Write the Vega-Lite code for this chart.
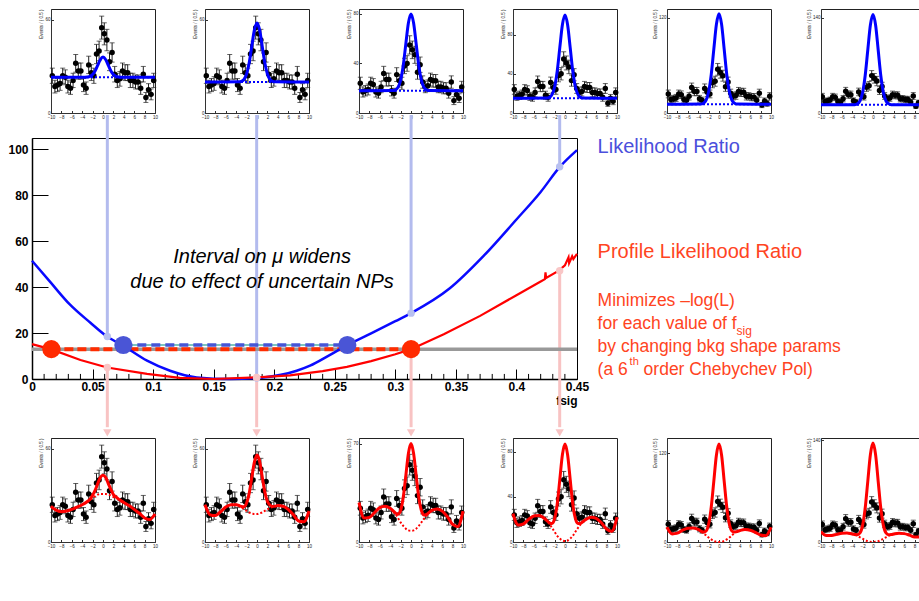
{
"$schema":"https://vega.github.io/schema/vega-lite/v6.json",
"padding":{"left":7,"top":7,"right":0,"bottom":5},
"background":"white",
"config":{"font":"Liberation Sans","view":{"stroke":"#222","strokeWidth":1},
 "axis":{"labelFontSize":4.5,"titleFontSize":4.5,"titleFontWeight":"normal","tickSize":-2.5,"labelPadding":3.5,"tickColor":"#333","domainColor":"#333","labelColor":"#222","grid":false,"titleColor":"#222","titlePadding":1,"labelFlush":false}},
"datasets":{
"obs":[{"x":-9.75,"y":24,"e":4.9},{"x":-9.25,"y":17,"e":4.1},{"x":-8.75,"y":18,"e":4.2},{"x":-8.25,"y":19,"e":4.4},{"x":-7.75,"y":24,"e":4.9},{"x":-7.25,"y":23,"e":4.8},{"x":-6.75,"y":17,"e":4.1},{"x":-6.25,"y":16,"e":4.0},{"x":-5.75,"y":21,"e":4.6},{"x":-5.25,"y":32,"e":5.7},{"x":-4.75,"y":27,"e":5.2},{"x":-4.25,"y":27,"e":5.2},{"x":-3.75,"y":18,"e":4.2},{"x":-3.25,"y":16,"e":4.0},{"x":-2.75,"y":31,"e":5.6},{"x":-2.25,"y":26,"e":5.1},{"x":-1.75,"y":24,"e":4.9},{"x":-1.25,"y":38,"e":6.2},{"x":-0.75,"y":40,"e":6.3},{"x":-0.25,"y":55,"e":7.4},{"x":0.25,"y":51,"e":7.1},{"x":0.75,"y":47,"e":6.9},{"x":1.25,"y":33,"e":5.7},{"x":1.75,"y":39,"e":6.2},{"x":2.25,"y":25,"e":5.0},{"x":2.75,"y":21,"e":4.6},{"x":3.25,"y":22,"e":4.7},{"x":3.75,"y":27,"e":5.2},{"x":4.25,"y":26,"e":5.1},{"x":4.75,"y":26,"e":5.1},{"x":5.25,"y":21,"e":4.6},{"x":5.75,"y":21,"e":4.6},{"x":6.25,"y":20,"e":4.5},{"x":6.75,"y":20,"e":4.5},{"x":7.25,"y":16,"e":4.0},{"x":7.75,"y":25,"e":5.0},{"x":8.25,"y":10,"e":3.2},{"x":8.75,"y":15,"e":3.9},{"x":9.25,"y":12,"e":3.5},{"x":9.75,"y":21,"e":4.6}],
"fits":[
{"p":"T1","x":-10,"bkg":23,"fit":23},{"p":"T1","x":-3.5,"bkg":23,"fit":23.03},{"p":"T1","x":-3,"bkg":23,"fit":23.14},{"p":"T1","x":-2.5,"bkg":23,"fit":23.57},{"p":"T1","x":-2,"bkg":23,"fit":24.76},{"p":"T1","x":-1.5,"bkg":23,"fit":27.22},{"p":"T1","x":-1,"bkg":23,"fit":30.88},{"p":"T1","x":-0.5,"bkg":23,"fit":34.47},{"p":"T1","x":0,"bkg":23,"fit":36},{"p":"T1","x":0.5,"bkg":23,"fit":34.47},{"p":"T1","x":1,"bkg":23,"fit":30.88},{"p":"T1","x":1.5,"bkg":23,"fit":27.22},{"p":"T1","x":2,"bkg":23,"fit":24.76},{"p":"T1","x":2.5,"bkg":23,"fit":23.57},{"p":"T1","x":3,"bkg":23,"fit":23.14},{"p":"T1","x":3.5,"bkg":23,"fit":23.03},{"p":"T1","x":10,"bkg":23,"fit":23},
{"p":"T2","x":-10,"bkg":20,"fit":20},{"p":"T2","x":-3.5,"bkg":20,"fit":20.08},{"p":"T2","x":-3,"bkg":20,"fit":20.42},{"p":"T2","x":-2.5,"bkg":20,"fit":21.67},{"p":"T2","x":-2,"bkg":20,"fit":25.14},{"p":"T2","x":-1.5,"bkg":20,"fit":32.34},{"p":"T2","x":-1,"bkg":20,"fit":43.05},{"p":"T2","x":-0.5,"bkg":20,"fit":53.54},{"p":"T2","x":0,"bkg":20,"fit":58},{"p":"T2","x":0.5,"bkg":20,"fit":53.54},{"p":"T2","x":1,"bkg":20,"fit":43.05},{"p":"T2","x":1.5,"bkg":20,"fit":32.34},{"p":"T2","x":2,"bkg":20,"fit":25.14},{"p":"T2","x":2.5,"bkg":20,"fit":21.67},{"p":"T2","x":3,"bkg":20,"fit":20.42},{"p":"T2","x":3.5,"bkg":20,"fit":20.08},{"p":"T2","x":10,"bkg":20,"fit":20},
{"p":"T3","x":-10,"bkg":18,"fit":18},{"p":"T3","x":-3.5,"bkg":18,"fit":18.14},{"p":"T3","x":-3,"bkg":18,"fit":18.69},{"p":"T3","x":-2.5,"bkg":18,"fit":20.72},{"p":"T3","x":-2,"bkg":18,"fit":26.39},{"p":"T3","x":-1.5,"bkg":18,"fit":38.13},{"p":"T3","x":-1,"bkg":18,"fit":55.6},{"p":"T3","x":-0.5,"bkg":18,"fit":72.7},{"p":"T3","x":0,"bkg":18,"fit":80},{"p":"T3","x":0.5,"bkg":18,"fit":72.7},{"p":"T3","x":1,"bkg":18,"fit":55.6},{"p":"T3","x":1.5,"bkg":18,"fit":38.13},{"p":"T3","x":2,"bkg":18,"fit":26.39},{"p":"T3","x":2.5,"bkg":18,"fit":20.72},{"p":"T3","x":3,"bkg":18,"fit":18.69},{"p":"T3","x":3.5,"bkg":18,"fit":18.14},{"p":"T3","x":10,"bkg":18,"fit":18},
{"p":"T4","x":-10,"bkg":15,"fit":15},{"p":"T4","x":-3.5,"bkg":15,"fit":15.19},{"p":"T4","x":-3,"bkg":15,"fit":15.94},{"p":"T4","x":-2.5,"bkg":15,"fit":18.73},{"p":"T4","x":-2,"bkg":15,"fit":26.5},{"p":"T4","x":-1.5,"bkg":15,"fit":42.6},{"p":"T4","x":-1,"bkg":15,"fit":66.55},{"p":"T4","x":-0.5,"bkg":15,"fit":90},{"p":"T4","x":0,"bkg":15,"fit":100},{"p":"T4","x":0.5,"bkg":15,"fit":90},{"p":"T4","x":1,"bkg":15,"fit":66.55},{"p":"T4","x":1.5,"bkg":15,"fit":42.6},{"p":"T4","x":2,"bkg":15,"fit":26.5},{"p":"T4","x":2.5,"bkg":15,"fit":18.73},{"p":"T4","x":3,"bkg":15,"fit":15.94},{"p":"T4","x":3.5,"bkg":15,"fit":15.19},{"p":"T4","x":10,"bkg":15,"fit":15},
{"p":"T5","x":-10,"bkg":11,"fit":11},{"p":"T5","x":-3.5,"bkg":11,"fit":11.25},{"p":"T5","x":-3,"bkg":11,"fit":12.27},{"p":"T5","x":-2.5,"bkg":11,"fit":16},{"p":"T5","x":-2,"bkg":11,"fit":26.42},{"p":"T5","x":-1.5,"bkg":11,"fit":48},{"p":"T5","x":-1,"bkg":11,"fit":80.14},{"p":"T5","x":-0.5,"bkg":11,"fit":111.6},{"p":"T5","x":0,"bkg":11,"fit":125},{"p":"T5","x":0.5,"bkg":11,"fit":111.6},{"p":"T5","x":1,"bkg":11,"fit":80.14},{"p":"T5","x":1.5,"bkg":11,"fit":48},{"p":"T5","x":2,"bkg":11,"fit":26.42},{"p":"T5","x":2.5,"bkg":11,"fit":16},{"p":"T5","x":3,"bkg":11,"fit":12.27},{"p":"T5","x":3.5,"bkg":11,"fit":11.25},{"p":"T5","x":10,"bkg":11,"fit":11},
{"p":"T6","x":-10,"bkg":12,"fit":12},{"p":"T6","x":-3.5,"bkg":12,"fit":12.29},{"p":"T6","x":-3,"bkg":12,"fit":13.48},{"p":"T6","x":-2.5,"bkg":12,"fit":17.84},{"p":"T6","x":-2,"bkg":12,"fit":30},{"p":"T6","x":-1.5,"bkg":12,"fit":55.19},{"p":"T6","x":-1,"bkg":12,"fit":92.66},{"p":"T6","x":-0.5,"bkg":12,"fit":129.4},{"p":"T6","x":0,"bkg":12,"fit":145},{"p":"T6","x":0.5,"bkg":12,"fit":129.4},{"p":"T6","x":1,"bkg":12,"fit":92.66},{"p":"T6","x":1.5,"bkg":12,"fit":55.19},{"p":"T6","x":2,"bkg":12,"fit":30},{"p":"T6","x":2.5,"bkg":12,"fit":17.84},{"p":"T6","x":3,"bkg":12,"fit":13.48},{"p":"T6","x":3.5,"bkg":12,"fit":12.29},{"p":"T6","x":10,"bkg":12,"fit":12},
{"p":"B1","x":-10,"bkg":23,"fit":23},{"p":"B1","x":-9,"bkg":20.5,"fit":20.5},{"p":"B1","x":-8,"bkg":19.5,"fit":19.5},{"p":"B1","x":-7,"bkg":20,"fit":20},{"p":"B1","x":-6,"bkg":21,"fit":21},{"p":"B1","x":-5,"bkg":22.5,"fit":22.5},{"p":"B1","x":-4,"bkg":24,"fit":24},{"p":"B1","x":-3,"bkg":26,"fit":26.1},{"p":"B1","x":-2.5,"bkg":27,"fit":27.5},{"p":"B1","x":-2,"bkg":28.5,"fit":30.1},{"p":"B1","x":-1.5,"bkg":29.5,"fit":33.4},{"p":"B1","x":-1,"bkg":30.5,"fit":37.8},{"p":"B1","x":-0.5,"bkg":31,"fit":41.6},{"p":"B1","x":0,"bkg":31,"fit":43},{"p":"B1","x":0.5,"bkg":31,"fit":41.6},{"p":"B1","x":1,"bkg":30.5,"fit":37.8},{"p":"B1","x":1.5,"bkg":30,"fit":33.9},{"p":"B1","x":2,"bkg":29,"fit":30.6},{"p":"B1","x":2.5,"bkg":28.5,"fit":29},{"p":"B1","x":3,"bkg":27.5,"fit":27.6},{"p":"B1","x":3.5,"bkg":26.5,"fit":26.5},{"p":"B1","x":4,"bkg":25.5,"fit":25.5},{"p":"B1","x":5,"bkg":23.5,"fit":23.5},{"p":"B1","x":6,"bkg":21,"fit":21},{"p":"B1","x":7,"bkg":18.5,"fit":18.5},{"p":"B1","x":8,"bkg":15.5,"fit":15.5},{"p":"B1","x":9,"bkg":14.5,"fit":14.5},{"p":"B1","x":10,"bkg":18,"fit":18},
{"p":"B2","x":-10,"bkg":24,"fit":24},{"p":"B2","x":-9,"bkg":17.5,"fit":17.5},{"p":"B2","x":-8,"bkg":17,"fit":17},{"p":"B2","x":-7,"bkg":19.5,"fit":19.5},{"p":"B2","x":-6,"bkg":22.5,"fit":22.5},{"p":"B2","x":-5,"bkg":24,"fit":24},{"p":"B2","x":-4,"bkg":24,"fit":24},{"p":"B2","x":-3,"bkg":22.5,"fit":22.9},{"p":"B2","x":-2.5,"bkg":21,"fit":22.7},{"p":"B2","x":-2,"bkg":20,"fit":25.1},{"p":"B2","x":-1.5,"bkg":19,"fit":31.3},{"p":"B2","x":-1,"bkg":18.5,"fit":41.5},{"p":"B2","x":-0.5,"bkg":18,"fit":51.5},{"p":"B2","x":0,"bkg":18,"fit":56},{"p":"B2","x":0.5,"bkg":18.5,"fit":52},{"p":"B2","x":1,"bkg":19,"fit":42},{"p":"B2","x":1.5,"bkg":20,"fit":32.3},{"p":"B2","x":2,"bkg":21,"fit":26.1},{"p":"B2","x":2.5,"bkg":22,"fit":23.7},{"p":"B2","x":3,"bkg":22.5,"fit":22.9},{"p":"B2","x":3.5,"bkg":23,"fit":23.1},{"p":"B2","x":4,"bkg":23.5,"fit":23.5},{"p":"B2","x":5,"bkg":23,"fit":23},{"p":"B2","x":6,"bkg":21,"fit":21},{"p":"B2","x":7,"bkg":17.5,"fit":17.5},{"p":"B2","x":8,"bkg":13.5,"fit":13.5},{"p":"B2","x":9,"bkg":13,"fit":13},{"p":"B2","x":10,"bkg":20,"fit":20},
{"p":"B3","x":-10,"bkg":28,"fit":28},{"p":"B3","x":-9,"bkg":17,"fit":17},{"p":"B3","x":-8,"bkg":17.5,"fit":17.5},{"p":"B3","x":-7,"bkg":21,"fit":21},{"p":"B3","x":-6,"bkg":24.5,"fit":24.5},{"p":"B3","x":-5,"bkg":25.5,"fit":25.5},{"p":"B3","x":-4,"bkg":24,"fit":24},{"p":"B3","x":-3,"bkg":20,"fit":20.7},{"p":"B3","x":-2.5,"bkg":17,"fit":19.7},{"p":"B3","x":-2,"bkg":14,"fit":22.4},{"p":"B3","x":-1.5,"bkg":11.5,"fit":31.6},{"p":"B3","x":-1,"bkg":9.5,"fit":47.1},{"p":"B3","x":-0.5,"bkg":8.3,"fit":63},{"p":"B3","x":0,"bkg":8,"fit":70},{"p":"B3","x":0.5,"bkg":8.3,"fit":63},{"p":"B3","x":1,"bkg":9.5,"fit":47.1},{"p":"B3","x":1.5,"bkg":11.5,"fit":31.6},{"p":"B3","x":2,"bkg":14,"fit":22.4},{"p":"B3","x":2.5,"bkg":16.5,"fit":19.2},{"p":"B3","x":3,"bkg":19,"fit":19.7},{"p":"B3","x":3.5,"bkg":21,"fit":21.1},{"p":"B3","x":4,"bkg":22.5,"fit":22.5},{"p":"B3","x":5,"bkg":23.5,"fit":23.5},{"p":"B3","x":6,"bkg":22,"fit":22},{"p":"B3","x":7,"bkg":18,"fit":18},{"p":"B3","x":8,"bkg":12.5,"fit":12.5},{"p":"B3","x":9,"bkg":11,"fit":11},{"p":"B3","x":10,"bkg":22,"fit":22},
{"p":"B4","x":-10,"bkg":25,"fit":25},{"p":"B4","x":-9,"bkg":15,"fit":15},{"p":"B4","x":-8,"bkg":16,"fit":16},{"p":"B4","x":-7,"bkg":20,"fit":20},{"p":"B4","x":-6,"bkg":23,"fit":23},{"p":"B4","x":-5,"bkg":23.5,"fit":23.5},{"p":"B4","x":-4,"bkg":21,"fit":21},{"p":"B4","x":-3,"bkg":16,"fit":17},{"p":"B4","x":-2.5,"bkg":12.5,"fit":16.3},{"p":"B4","x":-2,"bkg":9,"fit":20.6},{"p":"B4","x":-1.5,"bkg":5.5,"fit":33.4},{"p":"B4","x":-1,"bkg":3,"fit":55.2},{"p":"B4","x":-0.5,"bkg":1.3,"fit":77.2},{"p":"B4","x":0,"bkg":0.8,"fit":86.8},{"p":"B4","x":0.5,"bkg":1.3,"fit":77.2},{"p":"B4","x":1,"bkg":3,"fit":55.2},{"p":"B4","x":1.5,"bkg":5.5,"fit":33.4},{"p":"B4","x":2,"bkg":9,"fit":20.6},{"p":"B4","x":2.5,"bkg":12.5,"fit":16.3},{"p":"B4","x":3,"bkg":15.5,"fit":16.5},{"p":"B4","x":3.5,"bkg":18,"fit":18.2},{"p":"B4","x":4,"bkg":20,"fit":20},{"p":"B4","x":5,"bkg":22,"fit":22},{"p":"B4","x":6,"bkg":21,"fit":21},{"p":"B4","x":7,"bkg":17,"fit":17},{"p":"B4","x":8,"bkg":11.5,"fit":11.5},{"p":"B4","x":9,"bkg":9.5,"fit":9.5},{"p":"B4","x":10,"bkg":22,"fit":22},
{"p":"B5","x":-10,"bkg":20,"fit":20},{"p":"B5","x":-9,"bkg":11,"fit":11},{"p":"B5","x":-8,"bkg":12,"fit":12},{"p":"B5","x":-7,"bkg":16,"fit":16},{"p":"B5","x":-6,"bkg":18.5,"fit":18.5},{"p":"B5","x":-5,"bkg":19,"fit":19},{"p":"B5","x":-4,"bkg":17,"fit":17},{"p":"B5","x":-3,"bkg":12,"fit":13.5},{"p":"B5","x":-2.5,"bkg":9,"fit":14.8},{"p":"B5","x":-2,"bkg":6,"fit":24},{"p":"B5","x":-1.5,"bkg":3.5,"fit":46.7},{"p":"B5","x":-1,"bkg":1.5,"fit":82.2},{"p":"B5","x":-0.5,"bkg":0.3,"fit":117.7},{"p":"B5","x":0,"bkg":0,"fit":133},{"p":"B5","x":0.5,"bkg":0.3,"fit":117.7},{"p":"B5","x":1,"bkg":1.5,"fit":82.2},{"p":"B5","x":1.5,"bkg":3.5,"fit":46.7},{"p":"B5","x":2,"bkg":6,"fit":24},{"p":"B5","x":2.5,"bkg":9,"fit":14.8},{"p":"B5","x":3,"bkg":12,"fit":13.5},{"p":"B5","x":3.5,"bkg":14,"fit":14.3},{"p":"B5","x":4,"bkg":15.5,"fit":15.5},{"p":"B5","x":5,"bkg":17,"fit":17},{"p":"B5","x":6,"bkg":16,"fit":16},{"p":"B5","x":7,"bkg":13,"fit":13},{"p":"B5","x":8,"bkg":9.5,"fit":9.5},{"p":"B5","x":9,"bkg":8.5,"fit":8.5},{"p":"B5","x":10,"bkg":20,"fit":20},
{"p":"B6","x":-10,"bkg":14,"fit":14},{"p":"B6","x":-9,"bkg":9,"fit":9},{"p":"B6","x":-8,"bkg":9,"fit":9},{"p":"B6","x":-7,"bkg":10.5,"fit":10.5},{"p":"B6","x":-6,"bkg":12,"fit":12},{"p":"B6","x":-5,"bkg":12.5,"fit":12.5},{"p":"B6","x":-4,"bkg":11,"fit":11},{"p":"B6","x":-3,"bkg":8.5,"fit":10},{"p":"B6","x":-2.5,"bkg":6.5,"fit":12.5},{"p":"B6","x":-2,"bkg":4.5,"fit":22.9},{"p":"B6","x":-1.5,"bkg":2.5,"fit":46.7},{"p":"B6","x":-1,"bkg":1,"fit":83.5},{"p":"B6","x":-0.5,"bkg":0.2,"fit":120.2},{"p":"B6","x":0,"bkg":0,"fit":136},{"p":"B6","x":0.5,"bkg":0.2,"fit":120.2},{"p":"B6","x":1,"bkg":1,"fit":83.5},{"p":"B6","x":1.5,"bkg":2.5,"fit":46.7},{"p":"B6","x":2,"bkg":4.5,"fit":22.9},{"p":"B6","x":2.5,"bkg":6.5,"fit":12.5},{"p":"B6","x":3,"bkg":8.5,"fit":10},{"p":"B6","x":3.5,"bkg":10,"fit":10.3},{"p":"B6","x":4,"bkg":11,"fit":11},{"p":"B6","x":5,"bkg":12,"fit":12},{"p":"B6","x":6,"bkg":11.5,"fit":11.5},{"p":"B6","x":7,"bkg":9.5,"fit":9.5},{"p":"B6","x":8,"bkg":7,"fit":7},{"p":"B6","x":9,"bkg":7,"fit":7},{"p":"B6","x":10,"bkg":8,"fit":8}
],
"lr":[{"f":0,"v":51.5},{"f":0.015,"v":42.3},{"f":0.031,"v":32.6},{"f":0.048,"v":24.6},{"f":0.062,"v":18.5},{"f":0.075,"v":14.6},{"f":0.095,"v":8.0},{"f":0.114,"v":3.6},{"f":0.136,"v":0.7},{"f":0.163,"v":0},{"f":0.191,"v":0.7},{"f":0.2186,"v":3.6},{"f":0.2296,"v":5.8},{"f":0.245,"v":10.2},{"f":0.2604,"v":14.8},{"f":0.28,"v":19.9},{"f":0.3,"v":25.2},{"f":0.313,"v":28.7},{"f":0.345,"v":39.5},{"f":0.3727,"v":53.5},{"f":0.4,"v":69.5},{"f":0.42,"v":81.5},{"f":0.436,"v":92.5},{"f":0.45,"v":99.7}],
"plr":[{"f":0,"v":15.2},{"f":0.016,"v":12.9},{"f":0.04,"v":8.3},{"f":0.062,"v":5.0},{"f":0.095,"v":2.2},{"f":0.122,"v":0.5},{"f":0.15,"v":0},{"f":0.186,"v":0.7},{"f":0.213,"v":1.6},{"f":0.24,"v":3.4},{"f":0.26,"v":5.3},{"f":0.28,"v":7.8},{"f":0.3,"v":10.8},{"f":0.313,"v":13},{"f":0.34,"v":19.5},{"f":0.37,"v":27.5},{"f":0.4,"v":36.5},{"f":0.42,"v":42.5},{"f":0.4235,"v":43.5},{"f":0.424,"v":46.5},{"f":0.4245,"v":44},{"f":0.435,"v":47.2},{"f":0.44,"v":49.5},{"f":0.443,"v":53},{"f":0.4435,"v":50.5},{"f":0.446,"v":53.5},{"f":0.447,"v":52.3},{"f":0.45,"v":54.5}],
"arrows":[{"f":0.0622,"lr":18.5,"plr":5.0},{"f":0.1855,"lr":0.4,"plr":0.7},{"f":0.313,"lr":28.7,"plr":13},{"f":0.4357,"lr":92.5,"plr":47.2}],
"ends":[{"f":0.016,"v":13,"c":"PLR"},{"f":0.313,"v":13,"c":"PLR"},{"f":0.0754,"v":14.8,"c":"LR"},{"f":0.2604,"v":14.8,"c":"LR"}],
"xminor":[{"f":0.01},{"f":0.02},{"f":0.03},{"f":0.04},{"f":0.06},{"f":0.07},{"f":0.08},{"f":0.09},{"f":0.11},{"f":0.12},{"f":0.13},{"f":0.14},{"f":0.16},{"f":0.17},{"f":0.18},{"f":0.19},{"f":0.21},{"f":0.22},{"f":0.23},{"f":0.24},{"f":0.26},{"f":0.27},{"f":0.28},{"f":0.29},{"f":0.31},{"f":0.32},{"f":0.33},{"f":0.34},{"f":0.36},{"f":0.37},{"f":0.38},{"f":0.39},{"f":0.41},{"f":0.42},{"f":0.43},{"f":0.44}]
},
"vconcat":[
{"hconcat":[
 {"width":18.7,"height":104,"data":{"values":[]},"mark":"point","view":{"stroke":null}},
 {"hconcat":[
  {"width":104,"height":104,"encoding":{"x":{"field":"x","type":"quantitative","scale":{"domain":[-10,10],"nice":false},"axis":{"values":[-10,-8,-6,-4,-2,0,2,4,6,8,10],"title":null}}},
   "layer":[
    {"data":{"name":"obs"},"mark":{"type":"errorbar","ticks":true,"color":"#222"},"encoding":{"y":{"field":"y","type":"quantitative","scale":{"domain":[0,67],"nice":false},"axis":{"values":[0,10,20,30,40,50,60],"title":"Events / ( 0.5 )","titleAnchor":"end"}},"yError":{"field":"e"}}},
    {"data":{"name":"obs"},"mark":{"type":"circle","size":30,"color":"#000","opacity":1},"encoding":{"y":{"field":"y","type":"quantitative"}}},
    {"data":{"name":"fits"},"transform":[{"filter":"datum.p==='T1'"}],"mark":{"type":"line","color":"#0000ff","strokeWidth":2,"strokeDash":[2,2],"interpolate":"monotone"},"encoding":{"y":{"field":"bkg","type":"quantitative"}}},
    {"data":{"name":"fits"},"transform":[{"filter":"datum.p==='T1'"}],"mark":{"type":"line","color":"#0000ff","strokeWidth":3,"interpolate":"monotone"},"encoding":{"y":{"field":"fit","type":"quantitative"}}},
    {"data":{"values":[{}]},"mark":{"type":"rule","color":"#aaaaaa","strokeWidth":1},"encoding":{"x":{"datum":-11.5},"x2":{"datum":-1.9},"y":{"datum":70.2}}}
   ]},
  {"width":104,"height":104,"encoding":{"x":{"field":"x","type":"quantitative","scale":{"domain":[-10,10],"nice":false},"axis":{"values":[-10,-8,-6,-4,-2,0,2,4,6,8,10],"title":null}}},
   "layer":[
    {"data":{"name":"obs"},"mark":{"type":"errorbar","ticks":true,"color":"#222"},"encoding":{"y":{"field":"y","type":"quantitative","scale":{"domain":[0,67],"nice":false},"axis":{"values":[0,10,20,30,40,50,60],"title":"Events / ( 0.5 )","titleAnchor":"end"}},"yError":{"field":"e"}}},
    {"data":{"name":"obs"},"mark":{"type":"circle","size":30,"color":"#000","opacity":1},"encoding":{"y":{"field":"y","type":"quantitative"}}},
    {"data":{"name":"fits"},"transform":[{"filter":"datum.p==='T2'"}],"mark":{"type":"line","color":"#0000ff","strokeWidth":2,"strokeDash":[2,2],"interpolate":"monotone"},"encoding":{"y":{"field":"bkg","type":"quantitative"}}},
    {"data":{"name":"fits"},"transform":[{"filter":"datum.p==='T2'"}],"mark":{"type":"line","color":"#0000ff","strokeWidth":3,"interpolate":"monotone"},"encoding":{"y":{"field":"fit","type":"quantitative"}}},
    {"data":{"values":[{}]},"mark":{"type":"rule","color":"#aaaaaa","strokeWidth":1},"encoding":{"x":{"datum":-11.5},"x2":{"datum":-1.9},"y":{"datum":70.2}}}
   ]},
  {"width":104,"height":104,"encoding":{"x":{"field":"x","type":"quantitative","scale":{"domain":[-10,10],"nice":false},"axis":{"values":[-10,-8,-6,-4,-2,0,2,4,6,8,10],"title":null}}},
   "layer":[
    {"data":{"name":"obs"},"mark":{"type":"errorbar","ticks":true,"color":"#222"},"encoding":{"y":{"field":"y","type":"quantitative","scale":{"domain":[0,84],"nice":false},"axis":{"values":[0,10,20,30,40,50,60,70,80],"title":"Events / ( 0.5 )","titleAnchor":"end"}},"yError":{"field":"e"}}},
    {"data":{"name":"obs"},"mark":{"type":"circle","size":30,"color":"#000","opacity":1},"encoding":{"y":{"field":"y","type":"quantitative"}}},
    {"data":{"name":"fits"},"transform":[{"filter":"datum.p==='T3'"}],"mark":{"type":"line","color":"#0000ff","strokeWidth":2,"strokeDash":[2,2],"interpolate":"monotone"},"encoding":{"y":{"field":"bkg","type":"quantitative"}}},
    {"data":{"name":"fits"},"transform":[{"filter":"datum.p==='T3'"}],"mark":{"type":"line","color":"#0000ff","strokeWidth":3,"interpolate":"monotone"},"encoding":{"y":{"field":"fit","type":"quantitative"}}},
    {"data":{"values":[{}]},"mark":{"type":"rule","color":"#aaaaaa","strokeWidth":1},"encoding":{"x":{"datum":-11.5},"x2":{"datum":-1.9},"y":{"datum":88}}}
   ]},
  {"width":104,"height":104,"encoding":{"x":{"field":"x","type":"quantitative","scale":{"domain":[-10,10],"nice":false},"axis":{"values":[-10,-8,-6,-4,-2,0,2,4,6,8,10],"title":null}}},
   "layer":[
    {"data":{"name":"obs"},"mark":{"type":"errorbar","ticks":true,"color":"#222"},"encoding":{"y":{"field":"y","type":"quantitative","scale":{"domain":[0,106],"nice":false},"axis":{"values":[0,20,40,60,80,100],"title":"Events / ( 0.5 )","titleAnchor":"end"}},"yError":{"field":"e"}}},
    {"data":{"name":"obs"},"mark":{"type":"circle","size":30,"color":"#000","opacity":1},"encoding":{"y":{"field":"y","type":"quantitative"}}},
    {"data":{"name":"fits"},"transform":[{"filter":"datum.p==='T4'"}],"mark":{"type":"line","color":"#0000ff","strokeWidth":2,"strokeDash":[2,2],"interpolate":"monotone"},"encoding":{"y":{"field":"bkg","type":"quantitative"}}},
    {"data":{"name":"fits"},"transform":[{"filter":"datum.p==='T4'"}],"mark":{"type":"line","color":"#0000ff","strokeWidth":3,"interpolate":"monotone"},"encoding":{"y":{"field":"fit","type":"quantitative"}}},
    {"data":{"values":[{}]},"mark":{"type":"rule","color":"#aaaaaa","strokeWidth":1},"encoding":{"x":{"datum":-11.5},"x2":{"datum":-1.9},"y":{"datum":111}}}
   ]},
  {"width":104,"height":104,"encoding":{"x":{"field":"x","type":"quantitative","scale":{"domain":[-10,10],"nice":false},"axis":{"values":[-10,-8,-6,-4,-2,0,2,4,6,8,10],"title":null}}},
   "layer":[
    {"data":{"name":"obs"},"mark":{"type":"errorbar","ticks":true,"color":"#222"},"encoding":{"y":{"field":"y","type":"quantitative","scale":{"domain":[0,131],"nice":false},"axis":{"values":[0,20,40,60,80,100,120],"title":"Events / ( 0.5 )","titleAnchor":"end"}},"yError":{"field":"e"}}},
    {"data":{"name":"obs"},"mark":{"type":"circle","size":30,"color":"#000","opacity":1},"encoding":{"y":{"field":"y","type":"quantitative"}}},
    {"data":{"name":"fits"},"transform":[{"filter":"datum.p==='T5'"}],"mark":{"type":"line","color":"#0000ff","strokeWidth":2,"strokeDash":[2,2],"interpolate":"monotone"},"encoding":{"y":{"field":"bkg","type":"quantitative"}}},
    {"data":{"name":"fits"},"transform":[{"filter":"datum.p==='T5'"}],"mark":{"type":"line","color":"#0000ff","strokeWidth":3,"interpolate":"monotone"},"encoding":{"y":{"field":"fit","type":"quantitative"}}},
    {"data":{"values":[{}]},"mark":{"type":"rule","color":"#aaaaaa","strokeWidth":1},"encoding":{"x":{"datum":-11.5},"x2":{"datum":-1.9},"y":{"datum":137.3}}}
   ]},
  {"width":98,"height":104,"encoding":{"x":{"field":"x","type":"quantitative","scale":{"domain":[-10,8.85],"nice":false},"axis":{"values":[-10,-8,-6,-4,-2,0,2,4,6,8],"title":null}}},
   "layer":[
    {"data":{"name":"obs"},"mark":{"type":"errorbar","ticks":true,"color":"#222","clip":true},"encoding":{"y":{"field":"y","type":"quantitative","scale":{"domain":[0,153],"nice":false},"axis":{"values":[0,20,40,60,80,100,120,140],"title":"Events / ( 0.5 )","titleAnchor":"end"}},"yError":{"field":"e"}}},
    {"data":{"name":"obs"},"mark":{"type":"circle","size":30,"color":"#000","opacity":1,"clip":true},"encoding":{"y":{"field":"y","type":"quantitative"}}},
    {"data":{"name":"fits"},"transform":[{"filter":"datum.p==='T6'"}],"mark":{"type":"line","color":"#0000ff","strokeWidth":2,"strokeDash":[2,2],"interpolate":"monotone","clip":true},"encoding":{"y":{"field":"bkg","type":"quantitative"}}},
    {"data":{"name":"fits"},"transform":[{"filter":"datum.p==='T6'"}],"mark":{"type":"line","color":"#0000ff","strokeWidth":3,"interpolate":"monotone","clip":true},"encoding":{"y":{"field":"fit","type":"quantitative"}}},
    {"data":{"values":[{}]},"mark":{"type":"rule","color":"#aaaaaa","strokeWidth":1},"encoding":{"x":{"datum":-11.5},"x2":{"datum":-1.9},"y":{"datum":160.4}}}
   ]}
 ],"spacing":50,"bounds":"flush"}
],"spacing":0,"bounds":"flush"},
{"vconcat":[
 {"width":545,"height":241,"view":{"stroke":"#000","strokeWidth":1},
  "layer":[
   {"data":{"name":"arrows"},"mark":{"type":"rule","color":"#b3bbee","strokeWidth":3},"encoding":{
     "x":{"field":"f","type":"quantitative","scale":{"domain":[0,0.45],"nice":false,"zero":false},"axis":{"values":[0,0.05,0.1,0.15,0.2,0.25,0.3,0.35,0.4,0.45],"format":"~g","labelOverlap":false,"tickSize":-10,"labelPadding":12,"labelFontSize":12,"labelFontWeight":"bold","labelColor":"#000","labelFlush":false,"tickColor":"#000","tickWidth":1,"domainColor":"#000","domainWidth":1.5,"grid":false,"title":"fsig","titleAnchor":"end","titleFontSize":12,"titleFontWeight":"bold","titleColor":"#000","titlePadding":3}},
     "y":{"field":"lr","type":"quantitative","scale":{"domain":[0,105],"nice":false},"axis":{"values":[0,5,10,15,20,25,30,35,40,45,50,55,60,65,70,75,80,85,90,95,100],"labelExpr":"datum.value % 20 === 0 ? datum.label : ''","labelOverlap":false,"tickSize":{"condition":{"test":"datum.value % 20 === 0","value":-16},"value":-8},"labelPadding":20,"labelFontSize":12,"labelFontWeight":"bold","labelColor":"#000","tickColor":"#000","tickWidth":1,"domainColor":"#000","domainWidth":1.5,"grid":false,"title":null}},
     "y2":{"datum":115}}},
   {"data":{"name":"xminor"},"mark":{"type":"rule","color":"#000","strokeWidth":1},"encoding":{"x":{"field":"f","type":"quantitative"},"y":{"datum":0},"y2":{"datum":2.2}}},
   {"data":{"name":"arrows"},"mark":{"type":"rule","color":"#f8c3c3","strokeWidth":3},"encoding":{"x":{"field":"f","type":"quantitative"},"y":{"field":"plr","type":"quantitative"},"y2":{"datum":-21}}},
   {"data":{"name":"arrows"},"mark":{"type":"point","shape":"triangle-down","filled":true,"size":70,"color":"#f8c3c3","opacity":1},"encoding":{"x":{"field":"f","type":"quantitative"},"y":{"datum":-23.5}}},
   {"data":{"values":[{}]},"mark":{"type":"rule","color":"#999999","strokeWidth":3.5},"encoding":{"x":{"datum":0},"x2":{"datum":0.45},"y":{"datum":13}}},
   {"data":{"values":[{}]},"mark":{"type":"rule","color":"#4fb3a8","strokeWidth":1.5},"encoding":{"x":{"datum":0.0754},"x2":{"datum":0.2604},"y":{"datum":14.8}}},
   {"data":{"values":[{}]},"mark":{"type":"rule","color":"#4655d6","strokeWidth":3.5,"strokeDash":[9,5]},"encoding":{"x":{"datum":0.0754},"x2":{"datum":0.2604},"y":{"datum":14.8}}},
   {"data":{"values":[{}]},"mark":{"type":"rule","color":"#ff2d00","strokeWidth":4,"strokeDash":[9,4]},"encoding":{"x":{"datum":0.016},"x2":{"datum":0.313},"y":{"datum":13}}},
   {"data":{"name":"lr"},"mark":{"type":"line","color":"#0a0aff","strokeWidth":2.5,"interpolate":"monotone"},"encoding":{"x":{"field":"f","type":"quantitative"},"y":{"field":"v","type":"quantitative"}}},
   {"data":{"name":"plr"},"mark":{"type":"line","color":"#ff0000","strokeWidth":2.2},"encoding":{"x":{"field":"f","type":"quantitative"},"y":{"field":"v","type":"quantitative"}}},
   {"data":{"name":"arrows"},"mark":{"type":"circle","size":55,"color":"#b8c0f0","opacity":1},"encoding":{"x":{"field":"f","type":"quantitative"},"y":{"field":"lr","type":"quantitative"}}},
   {"data":{"name":"arrows"},"mark":{"type":"circle","size":55,"color":"#f9c6c6","opacity":1},"encoding":{"x":{"field":"f","type":"quantitative"},"y":{"field":"plr","type":"quantitative"}}},
   {"data":{"name":"ends"},"mark":{"type":"circle","size":330,"opacity":1},"encoding":{"x":{"field":"f","type":"quantitative"},"y":{"field":"v","type":"quantitative"},"color":{"field":"c","type":"nominal","scale":{"domain":["LR","PLR"],"range":["#4a55d6","#ff2a00"]},"legend":null}}},
   {"data":{"values":[{}]},"mark":{"type":"text","text":"Interval on μ widens","fontSize":20,"fontStyle":"italic","align":"center","baseline":"middle","color":"#000"},"encoding":{"x":{"datum":0.19},"y":{"datum":53}}},
   {"data":{"values":[{}]},"mark":{"type":"text","text":"due to effect of uncertain NPs","fontSize":20,"fontStyle":"italic","align":"center","baseline":"middle","color":"#000"},"encoding":{"x":{"datum":0.19},"y":{"datum":42.2}}},
   {"data":{"values":[{}]},"mark":{"type":"text","text":"Likelihood Ratio","fontSize":20,"align":"left","baseline":"middle","color":"#4b4fdc"},"encoding":{"x":{"datum":0.467},"y":{"datum":100.9}}},
   {"data":{"values":[{}]},"mark":{"type":"text","text":"Profile Likelihood Ratio","fontSize":20,"align":"left","baseline":"middle","color":"#ff4422"},"encoding":{"x":{"datum":0.467},"y":{"datum":55.2}}},
   {"data":{"values":[{}]},"mark":{"type":"text","text":"Minimizes –log(L)","fontSize":17.5,"align":"left","baseline":"middle","color":"#ff4422"},"encoding":{"x":{"datum":0.467},"y":{"datum":33.9}}},
   {"data":{"values":[{}]},"mark":{"type":"text","text":"for each value of f","fontSize":17.5,"align":"left","baseline":"middle","color":"#ff4422"},"encoding":{"x":{"datum":0.467},"y":{"datum":23.9}}},
   {"data":{"values":[{}]},"mark":{"type":"text","text":"sig","fontSize":12,"align":"left","baseline":"middle","color":"#ff4422","dx":139},"encoding":{"x":{"datum":0.467},"y":{"datum":21}}},
   {"data":{"values":[{}]},"mark":{"type":"text","text":"by changing bkg shape params","fontSize":17.5,"align":"left","baseline":"middle","color":"#ff4422"},"encoding":{"x":{"datum":0.467},"y":{"datum":13.9}}},
   {"data":{"values":[{}]},"mark":{"type":"text","text":"(a 6","fontSize":17.5,"align":"left","baseline":"middle","color":"#ff4422"},"encoding":{"x":{"datum":0.467},"y":{"datum":3.9}}},
   {"data":{"values":[{}]},"mark":{"type":"text","text":"th","fontSize":11,"align":"left","baseline":"middle","color":"#ff4422","dx":32},"encoding":{"x":{"datum":0.467},"y":{"datum":7.2}}},
   {"data":{"values":[{}]},"mark":{"type":"text","text":"order Chebychev Pol)","fontSize":17.5,"align":"left","baseline":"middle","color":"#ff4422","dx":46},"encoding":{"x":{"datum":0.467},"y":{"datum":3.9}}}
  ]},
 {"hconcat":[
  {"width":18.7,"height":104,"data":{"values":[]},"mark":"point","view":{"stroke":null}},
  {"hconcat":[
   {"width":104,"height":104,"encoding":{"x":{"field":"x","type":"quantitative","scale":{"domain":[-10,10],"nice":false},"axis":{"values":[-10,-8,-6,-4,-2,0,2,4,6,8,10],"title":null}}},
    "layer":[
     {"data":{"name":"obs"},"mark":{"type":"errorbar","ticks":true,"color":"#222"},"encoding":{"y":{"field":"y","type":"quantitative","scale":{"domain":[0,67],"nice":false},"axis":{"values":[0,10,20,30,40,50,60],"title":"Events / ( 0.5 )","titleAnchor":"end"}},"yError":{"field":"e"}}},
     {"data":{"name":"obs"},"mark":{"type":"circle","size":30,"color":"#000","opacity":1},"encoding":{"y":{"field":"y","type":"quantitative"}}},
     {"data":{"name":"fits"},"transform":[{"filter":"datum.p==='B1'"}],"mark":{"type":"line","color":"#ff0000","strokeWidth":2,"strokeDash":[2,2],"interpolate":"monotone"},"encoding":{"y":{"field":"bkg","type":"quantitative"}}},
     {"data":{"name":"fits"},"transform":[{"filter":"datum.p==='B1'"}],"mark":{"type":"line","color":"#ff0000","strokeWidth":3,"interpolate":"monotone"},"encoding":{"y":{"field":"fit","type":"quantitative"}}},
     {"data":{"values":[{}]},"mark":{"type":"rule","color":"#aaaaaa","strokeWidth":1},"encoding":{"x":{"datum":-11.5},"x2":{"datum":-1.9},"y":{"datum":70}}}
    ]},
   {"width":104,"height":104,"encoding":{"x":{"field":"x","type":"quantitative","scale":{"domain":[-10,10],"nice":false},"axis":{"values":[-10,-8,-6,-4,-2,0,2,4,6,8,10],"title":null}}},
    "layer":[
     {"data":{"name":"obs"},"mark":{"type":"errorbar","ticks":true,"color":"#222"},"encoding":{"y":{"field":"y","type":"quantitative","scale":{"domain":[0,67],"nice":false},"axis":{"values":[0,10,20,30,40,50,60],"title":"Events / ( 0.5 )","titleAnchor":"end"}},"yError":{"field":"e"}}},
     {"data":{"name":"obs"},"mark":{"type":"circle","size":30,"color":"#000","opacity":1},"encoding":{"y":{"field":"y","type":"quantitative"}}},
     {"data":{"name":"fits"},"transform":[{"filter":"datum.p==='B2'"}],"mark":{"type":"line","color":"#ff0000","strokeWidth":2,"strokeDash":[2,2],"interpolate":"monotone"},"encoding":{"y":{"field":"bkg","type":"quantitative"}}},
     {"data":{"name":"fits"},"transform":[{"filter":"datum.p==='B2'"}],"mark":{"type":"line","color":"#ff0000","strokeWidth":3,"interpolate":"monotone"},"encoding":{"y":{"field":"fit","type":"quantitative"}}},
     {"data":{"values":[{}]},"mark":{"type":"rule","color":"#aaaaaa","strokeWidth":1},"encoding":{"x":{"datum":-11.5},"x2":{"datum":-1.9},"y":{"datum":70}}}
    ]},
   {"width":104,"height":104,"encoding":{"x":{"field":"x","type":"quantitative","scale":{"domain":[-10,10],"nice":false},"axis":{"values":[-10,-8,-6,-4,-2,0,2,4,6,8,10],"title":null}}},
    "layer":[
     {"data":{"name":"obs"},"mark":{"type":"errorbar","ticks":true,"color":"#222"},"encoding":{"y":{"field":"y","type":"quantitative","scale":{"domain":[0,74],"nice":false},"axis":{"values":[0,10,20,30,40,50,60,70],"title":"Events / ( 0.5 )","titleAnchor":"end"}},"yError":{"field":"e"}}},
     {"data":{"name":"obs"},"mark":{"type":"circle","size":30,"color":"#000","opacity":1},"encoding":{"y":{"field":"y","type":"quantitative"}}},
     {"data":{"name":"fits"},"transform":[{"filter":"datum.p==='B3'"}],"mark":{"type":"line","color":"#ff0000","strokeWidth":2,"strokeDash":[2,2],"interpolate":"monotone"},"encoding":{"y":{"field":"bkg","type":"quantitative"}}},
     {"data":{"name":"fits"},"transform":[{"filter":"datum.p==='B3'"}],"mark":{"type":"line","color":"#ff0000","strokeWidth":3,"interpolate":"monotone"},"encoding":{"y":{"field":"fit","type":"quantitative"}}},
     {"data":{"values":[{}]},"mark":{"type":"rule","color":"#aaaaaa","strokeWidth":1},"encoding":{"x":{"datum":-11.5},"x2":{"datum":-1.9},"y":{"datum":77.3}}}
    ]},
   {"width":104,"height":104,"encoding":{"x":{"field":"x","type":"quantitative","scale":{"domain":[-10,10],"nice":false},"axis":{"values":[-10,-8,-6,-4,-2,0,2,4,6,8,10],"title":null}}},
    "layer":[
     {"data":{"name":"obs"},"mark":{"type":"errorbar","ticks":true,"color":"#222"},"encoding":{"y":{"field":"y","type":"quantitative","scale":{"domain":[0,92],"nice":false},"axis":{"values":[0,10,20,30,40,50,60,70,80,90],"title":"Events / ( 0.5 )","titleAnchor":"end"}},"yError":{"field":"e"}}},
     {"data":{"name":"obs"},"mark":{"type":"circle","size":30,"color":"#000","opacity":1},"encoding":{"y":{"field":"y","type":"quantitative"}}},
     {"data":{"name":"fits"},"transform":[{"filter":"datum.p==='B4'"}],"mark":{"type":"line","color":"#ff0000","strokeWidth":2,"strokeDash":[2,2],"interpolate":"monotone"},"encoding":{"y":{"field":"bkg","type":"quantitative"}}},
     {"data":{"name":"fits"},"transform":[{"filter":"datum.p==='B4'"}],"mark":{"type":"line","color":"#ff0000","strokeWidth":3,"interpolate":"monotone"},"encoding":{"y":{"field":"fit","type":"quantitative"}}},
     {"data":{"values":[{}]},"mark":{"type":"rule","color":"#aaaaaa","strokeWidth":1},"encoding":{"x":{"datum":-11.5},"x2":{"datum":-1.9},"y":{"datum":96}}}
    ]},
   {"width":104,"height":104,"encoding":{"x":{"field":"x","type":"quantitative","scale":{"domain":[-10,10],"nice":false},"axis":{"values":[-10,-8,-6,-4,-2,0,2,4,6,8,10],"title":null}}},
    "layer":[
     {"data":{"name":"obs"},"mark":{"type":"errorbar","ticks":true,"color":"#222"},"encoding":{"y":{"field":"y","type":"quantitative","scale":{"domain":[0,141],"nice":false},"axis":{"values":[0,20,40,60,80,100,120],"title":"Events / ( 0.5 )","titleAnchor":"end"}},"yError":{"field":"e"}}},
     {"data":{"name":"obs"},"mark":{"type":"circle","size":30,"color":"#000","opacity":1},"encoding":{"y":{"field":"y","type":"quantitative"}}},
     {"data":{"name":"fits"},"transform":[{"filter":"datum.p==='B5'"}],"mark":{"type":"line","color":"#ff0000","strokeWidth":2,"strokeDash":[2,2],"interpolate":"monotone"},"encoding":{"y":{"field":"bkg","type":"quantitative"}}},
     {"data":{"name":"fits"},"transform":[{"filter":"datum.p==='B5'"}],"mark":{"type":"line","color":"#ff0000","strokeWidth":3,"interpolate":"monotone"},"encoding":{"y":{"field":"fit","type":"quantitative"}}},
     {"data":{"values":[{}]},"mark":{"type":"rule","color":"#aaaaaa","strokeWidth":1},"encoding":{"x":{"datum":-11.5},"x2":{"datum":-1.9},"y":{"datum":147}}}
    ]},
   {"width":98,"height":104,"encoding":{"x":{"field":"x","type":"quantitative","scale":{"domain":[-10,8.85],"nice":false},"axis":{"values":[-10,-8,-6,-4,-2,0,2,4,6,8],"title":null}}},
    "layer":[
     {"data":{"name":"obs"},"mark":{"type":"errorbar","ticks":true,"color":"#222","clip":true},"encoding":{"y":{"field":"y","type":"quantitative","scale":{"domain":[0,143],"nice":false},"axis":{"values":[0,20,40,60,80,100,120,140],"title":"Events / ( 0.5 )","titleAnchor":"end"}},"yError":{"field":"e"}}},
     {"data":{"name":"obs"},"mark":{"type":"circle","size":30,"color":"#000","opacity":1,"clip":true},"encoding":{"y":{"field":"y","type":"quantitative"}}},
     {"data":{"name":"fits"},"transform":[{"filter":"datum.p==='B6'"}],"mark":{"type":"line","color":"#ff0000","strokeWidth":2,"strokeDash":[2,2],"interpolate":"monotone","clip":true},"encoding":{"y":{"field":"bkg","type":"quantitative"}}},
     {"data":{"name":"fits"},"transform":[{"filter":"datum.p==='B6'"}],"mark":{"type":"line","color":"#ff0000","strokeWidth":3,"interpolate":"monotone","clip":true},"encoding":{"y":{"field":"fit","type":"quantitative"}}},
     {"data":{"values":[{}]},"mark":{"type":"rule","color":"#aaaaaa","strokeWidth":1},"encoding":{"x":{"datum":-11.5},"x2":{"datum":-1.9},"y":{"datum":149}}}
    ]}
  ],"spacing":50,"bounds":"flush"}
 ],"spacing":0,"bounds":"flush"}
],"spacing":59,"bounds":"flush"}
],"spacing":129,"bounds":"flush"}
